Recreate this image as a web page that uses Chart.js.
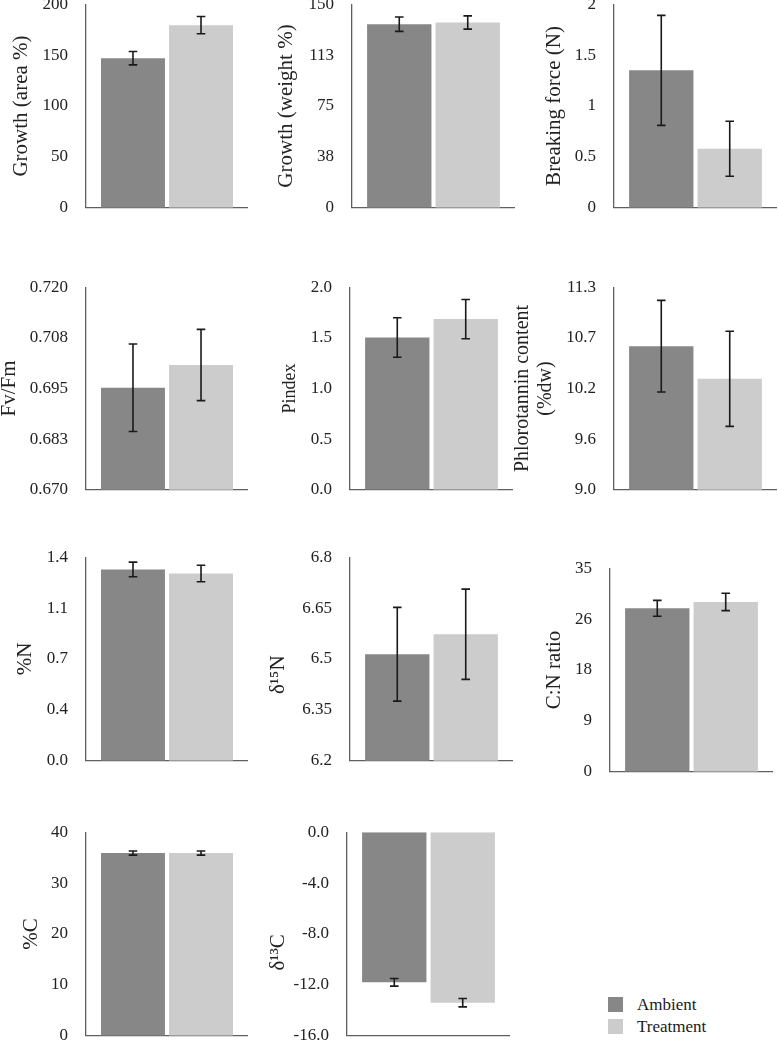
<!DOCTYPE html>
<html>
<head>
<meta charset="utf-8">
<script src="https://cdn.jsdelivr.net/npm/chart.js@4/dist/chart.umd.min.js"></script>
<style>
  html, body { margin:0; padding:0; background:#fff; width:778px; height:1043px; overflow:hidden; position:relative; }
  canvas { position:absolute; }
  .leg { position:absolute; font-family:'Liberation Serif','Times New Roman',serif; font-size:17px; color:#1a1a1a; line-height:20px; }
  .sw { position:absolute; width:15px; height:15px; }
</style>
</head>
<body>
<script>
// ---- DATA ----
const categories = ['Ambient', 'Treatment'];
const titles = ['Growth (area %)', 'Growth (weight %)', 'Breaking force (N)', 'Fv/Fm', 'Pindex',
  ['Phlorotannin content', '(%dw)'], '%N', 'δ¹⁵N', 'C:N ratio', '%C', 'δ¹³C'];
const ambientValues   = [147.0, 135.3, 1.35, 0.6952, 1.504, 10.63, 1.316, 6.514, 28.1, 35.9, -11.8];
const treatmentValues = [179.4, 136.5, 0.58, 0.7008, 1.685, 10.26, 1.288, 6.573, 29.2, 35.9, -13.4];
const ambientErrors   = [6.6, 5.3, 0.54, 0.0108, 0.195, 0.52, 0.050, 0.138, 1.37, 0.4, 0.30];
const treatmentErrors = [8.5, 4.9, 0.27, 0.0088, 0.194, 0.54, 0.057, 0.133, 1.50, 0.4, 0.33];
const yMins = [0, 0, 0, 0.670, 0.0, 9.0, 0.0, 6.2, 0, 0, -16.0];
const yMaxs = [200, 150, 2, 0.720, 2.0, 11.3, 1.4, 6.8, 35, 40, 0.0];
const tickLabels = [
  ['0', '50', '100', '150', '200'],
  ['0', '38', '75', '113', '150'],
  ['0', '0.5', '1', '1.5', '2'],
  ['0.670', '0.683', '0.695', '0.708', '0.720'],
  ['0.0', '0.5', '1.0', '1.5', '2.0'],
  ['9.0', '9.6', '10.2', '10.7', '11.3'],
  ['0.0', '0.4', '0.7', '1.1', '1.4'],
  ['6.2', '6.35', '6.5', '6.65', '6.8'],
  ['0', '9', '18', '26', '35'],
  ['0', '10', '20', '30', '40'],
  ['-16.0', '-12.0', '-8.0', '-4.0', '0.0']
];

// ---- LAYOUT (pixel placement of each panel) ----
// canvasLeft, axisX, plotRight, plotTop, plotBottom, titleSize, titleLineHeight, titleSpaces
const layout = [
  [9,     86, 248,   4,  208, 21, 1.2, 0],
  [274,  352, 515,   4,  208, 21, 1.2, 0],
  [542,  614, 777,   4,  208, 21, 1.2, 0],
  [-3,    86, 248, 287,  490, 21, 1.2, 0],
  [279,  350, 513, 287,  490, 18, 1.2, 0],
  [512,  614, 777, 287,  490, 20, 1.12, 0],
  [13,    86, 248, 557,  761, 21, 1.2, 0],
  [266,  350, 513, 557,  761, 21, 1.2, 6],
  [542,  610, 773, 568,  772, 21, 1.2, 0],
  [19,    86, 248, 832, 1036, 21, 1.2, 0],
  [266,  347, 510, 832, 1036, 21, 1.2, 7]
];

const FONT = "'Liberation Serif','Times New Roman',serif";
const colors = ['#878787', '#cccccc'];

const errorBars = {
  id: 'errorBars',
  afterDatasetsDraw(chart) {
    const ctx = chart.ctx;
    const y = chart.scales.y;
    ctx.save();
    ctx.strokeStyle = '#1a1a1a';
    ctx.lineWidth = 1.6;
    chart.data.datasets.forEach((ds, di) => {
      const meta = chart.getDatasetMeta(di);
      meta.data.forEach((bar, i) => {
        const v = ds.data[i], e = ds.errors[i];
        const x = bar.x;
        const yHi = y.getPixelForValue(v + e);
        const yLo = y.getPixelForValue(v - e);
        const cw = 4.3;
        ctx.beginPath();
        ctx.moveTo(x, yHi); ctx.lineTo(x, yLo);
        ctx.moveTo(x - cw, yHi); ctx.lineTo(x + cw, yHi);
        ctx.moveTo(x - cw, yLo); ctx.lineTo(x + cw, yLo);
        ctx.stroke();
      });
    });
    ctx.restore();
  }
};

titles.forEach((title, p) => {
  const [cl, ax, pr, pt, pb, ts, tlh, sp] = layout[p];
  const cv = document.createElement('canvas');
  const w = Math.round(pr - cl), h0 = (pb - pt) + 30;
  cv.width = w; cv.height = h0;
  cv.style.width = w + 'px'; cv.style.height = h0 + 'px';
  cv.style.left = cl + 'px'; cv.style.top = (pt - 12) + 'px';
  document.body.appendChild(cv);
  const yW = ax - cl;
  const mn = yMins[p], mx = yMaxs[p];
  const tickVals = tickLabels[p].map((_, i) => mn + i * (mx - mn) / (tickLabels[p].length - 1));
  const titleText = Array.isArray(title) ? title : title + '\u00a0'.repeat(sp);
  const chart = new Chart(cv, {
    type: 'bar',
    data: {
      labels: [''],
      datasets: [
        { label: categories[0], data: [ambientValues[p]], errors: [ambientErrors[p]], backgroundColor: colors[0] },
        { label: categories[1], data: [treatmentValues[p]], errors: [treatmentErrors[p]], backgroundColor: colors[1] }
      ]
    },
    options: {
      responsive: false,
      maintainAspectRatio: false,
      animation: false,
      devicePixelRatio: 1,
      layout: { padding: 0 },
      datasets: { bar: { categoryPercentage: 0.84, barPercentage: 0.94 } },
      plugins: { legend: { display: false }, tooltip: { enabled: false } },
      scales: {
        x: {
          grid: { display: false, drawTicks: false },
          ticks: { display: false },
          border: { color: '#5f5f5f', width: 1.3 }
        },
        y: {
          min: mn, max: mx,
          grid: { display: false, drawTicks: false },
          border: { color: '#5f5f5f', width: 1.3 },
          afterBuildTicks: s => { s.ticks = tickVals.map(v => ({ value: v })); },
          afterFit: s => { s.width = yW; },
          ticks: {
            padding: 18,
            color: '#222',
            font: { family: FONT, size: 17 },
            callback: (v, i) => tickLabels[p][i]
          },
          title: {
            display: true,
            text: titleText,
            color: '#222',
            font: { family: FONT, size: ts, lineHeight: tlh },
            padding: { top: 0, bottom: 0 }
          }
        }
      }
    },
    plugins: [errorBars]
  });
  // place the canvas so that the library's chart area lands on the target box
  const ca = chart.chartArea;
  const topOff = ca.top, botOff = h0 - ca.bottom;
  const h = Math.round((pb - pt) + topOff + botOff);
  chart.resize(w, h);
  cv.style.height = h + 'px';
  cv.style.width = w + 'px';
  cv.style.top = (pt - chart.chartArea.top) + 'px';
});

// Legend
categories.forEach((c, i) => {
  const sw = document.createElement('div');
  sw.className = 'sw';
  sw.style.background = colors[i];
  sw.style.left = '608px';
  sw.style.top = (997 + i * 21.5) + 'px';
  document.body.appendChild(sw);
  const t = document.createElement('div');
  t.className = 'leg';
  t.textContent = c;
  t.style.left = '637px';
  t.style.top = (995 + i * 21.5) + 'px';
  document.body.appendChild(t);
});
</script>
</body>
</html>
